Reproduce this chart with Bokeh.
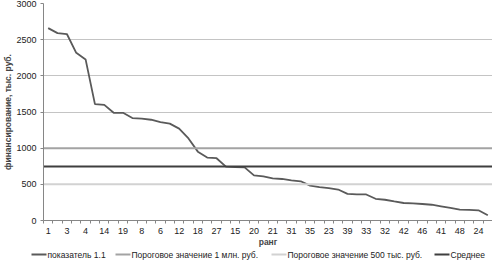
from bokeh.plotting import figure
from bokeh.models import Range1d, FixedTicker
from bokeh.core.properties import value
from bokeh.layouts import column
from bokeh.embed import file_html
from bokeh.resources import INLINE

# ---- data ----
values = [2660, 2590, 2578, 2318, 2227, 1608, 1598, 1489, 1489, 1416,
          1407, 1393, 1360, 1339, 1270, 1134, 952, 870, 861, 745,
          738, 735, 624, 611, 583, 574, 556, 542, 483, 460,
          448, 428, 369, 360, 360, 300, 287, 264, 242, 237,
          228, 218, 196, 173, 150, 146, 141, 73]
tick_labels = ["1", "3", "4", "14", "19", "8", "6", "12", "18", "27", "15", "20",
               "21", "31", "35", "23", "39", "33", "32", "42", "46", "41", "48", "24"]
threshold_1m = 1000
threshold_500k = 500
mean_value = 745
y_ticks = [0, 500, 1000, 1500, 2000, 2500, 3000]

series_names = ["показатель 1.1", "Пороговое значение 1 млн. руб.",
                "Пороговое значение 500 тыс. руб.", "Среднее"]

n = len(values)
xs = list(range(1, n + 1))
x0, x1 = 0.5, n + 0.5

FONT = "Liberation Sans"
colors = ["#5a5a5a", "#a3a3a3", "#d2d2d2", "#3f3f3f"]
widths = [1.8, 2, 2, 2]
LEFT = 40

p = figure(width=492, height=249, output_backend="svg", toolbar_location=None,
           x_range=Range1d(x0, x1), y_range=Range1d(0, 3000),
           min_border_left=LEFT, min_border_right=0, min_border_top=3, min_border_bottom=26)
p.outline_line_color = None
p.background_fill_color = "white"
p.border_fill_color = "white"

p.line(xs, values, line_color=colors[0], line_width=widths[0])
for val, c, w in zip([threshold_1m, threshold_500k, mean_value], colors[1:], widths[1:]):
    p.line([x0, x1], [val, val], line_color=c, line_width=w)

# x axis
label_pos = xs[0::2]
p.xaxis.ticker = FixedTicker(ticks=label_pos, minor_ticks=[i + 0.5 for i in range(0, n + 1)])
p.xaxis.major_label_overrides = {pos: lab for pos, lab in zip(label_pos, tick_labels)}
p.xaxis.major_tick_out = 0
p.xaxis.major_tick_in = 0
p.xaxis.minor_tick_out = 3
p.xaxis.minor_tick_in = 0
p.xaxis.minor_tick_line_color = "#868686"
p.xaxis.axis_line_color = "#868686"
p.xaxis.major_label_standoff = 4
p.xaxis.axis_label = "ранг"
p.xaxis.axis_label_standoff = 0
p.xaxis.axis_label_text_font_size = "8.5px"
p.xaxis.axis_label_text_font_style = "bold"
p.xaxis.axis_label_text_font = FONT
p.xaxis.major_label_text_font = FONT
p.xaxis.major_label_text_font_size = "9px"
p.xaxis.major_label_text_color = "#222222"

# y axis
p.yaxis.ticker = FixedTicker(ticks=y_ticks, minor_ticks=[])
p.yaxis.major_tick_out = 3
p.yaxis.major_tick_in = 0
p.yaxis.major_tick_line_color = "#868686"
p.yaxis.axis_line_color = "#868686"
p.yaxis.major_label_standoff = 4
p.yaxis.major_label_text_font = FONT
p.yaxis.major_label_text_font_size = "9px"
p.yaxis.major_label_text_color = "#222222"
p.yaxis.axis_label = "финансирование, тыс. руб."
p.yaxis.axis_label_standoff = 0
p.yaxis.axis_label_text_font_size = "8.5px"
p.yaxis.axis_label_text_font_style = "bold"
p.yaxis.axis_label_text_font = FONT

p.xgrid.grid_line_color = None
p.ygrid.grid_line_color = "#c4c4c4"
p.ygrid.grid_line_width = 1

# legend strip (screen-unit ranges, layout only)
LW, LH = 492, 12
pl = figure(width=LW, height=LH, output_backend="svg", toolbar_location=None,
            x_axis_type=None, y_axis_type=None,
            min_border_left=0, min_border_right=0, min_border_top=0, min_border_bottom=0)
pl.outline_line_color = None

legend_slots = [31, 115, 271, 434]   # left edge of each legend sample
if "frame_align" in pl.properties():
    pl.frame_align = False
    p.frame_align = False
    lx0 = 0
else:
    lx0 = LEFT
    legend_slots = [max(s, lx0) for s in legend_slots]
pl.x_range = Range1d(lx0, LW)
pl.y_range = Range1d(0, LH)

sample_len = 15
ly = 7
for slot, c, w, name in zip(legend_slots, colors, widths, series_names):
    pl.segment(x0=[slot], y0=[ly], x1=[slot + sample_len], y1=[ly], line_color=c, line_width=w)
    pl.text(x=[slot + sample_len + 1], y=[ly], text=[name], text_font=value(FONT),
            text_font_size="8.5px", text_color="#222222", text_baseline="middle", text_align="left")

layout = column(p, pl, spacing=0)
open("out.html", "w").write(file_html(layout, INLINE))
